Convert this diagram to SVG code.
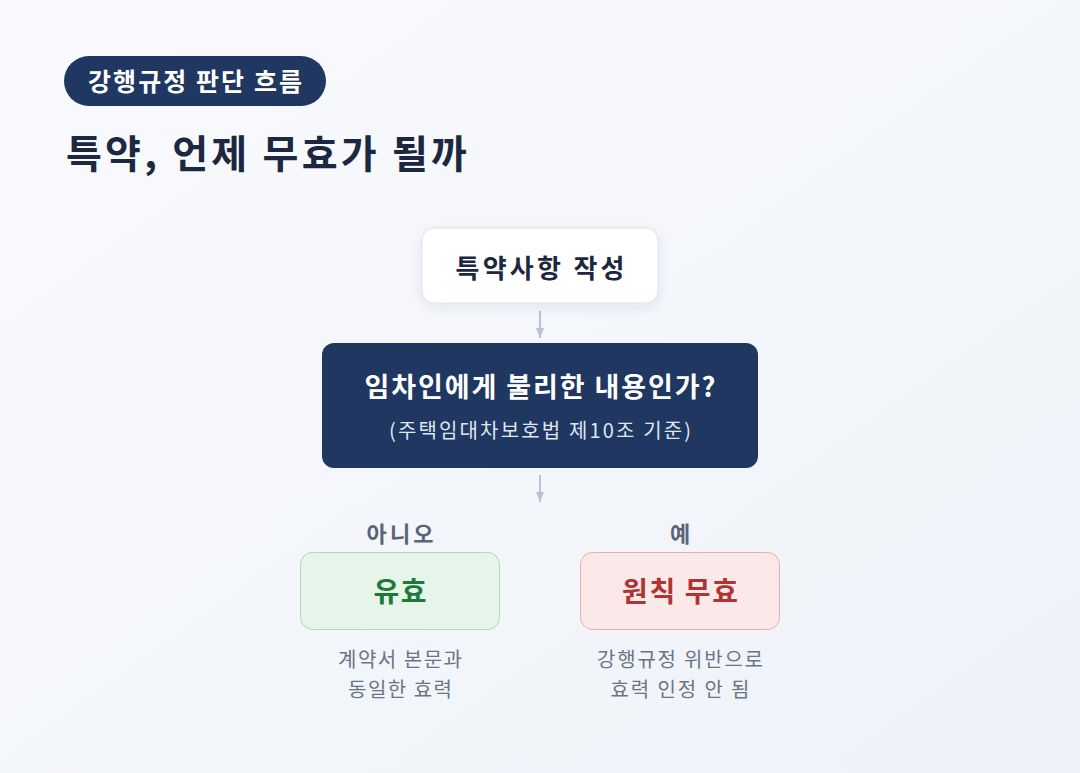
<svg xmlns="http://www.w3.org/2000/svg" width="1080" height="773" viewBox="0 0 1080 773">
<defs>
<linearGradient id="bg" x1="0" y1="0" x2="1" y2="1">
<stop offset="0" stop-color="#f9fafd"/>
<stop offset="1" stop-color="#eef2f8"/>
</linearGradient>
<filter id="sh" x="-20%" y="-30%" width="140%" height="170%">
<feDropShadow dx="0" dy="4" stdDeviation="6" flood-color="#1f3761" flood-opacity="0.08"/>
</filter>
<marker id="ah" viewBox="0 0 10 8" refX="10" refY="4" markerWidth="10" markerHeight="8" markerUnits="userSpaceOnUse" orient="auto">
<path d="M0,0 L10,4 L0,8 Z" fill="#b8c3d6"/>
</marker>
</defs>
<style>
text{font-family:"Noto Sans CJK KR","Noto Sans",sans-serif;text-anchor:middle}
.line{stroke:#b8c3d6;stroke-width:2;fill:none}
.sub{font-size:20px;fill:#6b7487}
.lab{font-size:22px;font-weight:700;fill:#5a6478}
</style>
<rect width="1080" height="773" fill="url(#bg)"/>
<g id="header">
<rect x="64" y="56" width="262" height="50" rx="25" fill="#1f3761"/>
<text x="195" y="91" font-size="25" font-weight="700" fill="#ffffff" textLength="214" lengthAdjust="spacing">강행규정 판단 흐름</text>
<text x="66" y="168" font-size="39" font-weight="700" fill="#1c2840" style="text-anchor:start" textLength="401" lengthAdjust="spacing">특약, 언제 무효가 될까</text>
</g>
<g id="connectors">
<line class="line" x1="540" y1="311" x2="540" y2="338" marker-end="url(#ah)"/>
<line class="line" x1="540" y1="475" x2="540" y2="502" marker-end="url(#ah)"/>
</g>
<g id="node-start">
<rect x="422" y="228" width="236" height="75" rx="12" fill="#ffffff" stroke="#dbe1ec" filter="url(#sh)"/>
<text x="540" y="278" font-size="26" font-weight="700" fill="#1c2840" textLength="169" lengthAdjust="spacing">특약사항 작성</text>
</g>
<g id="node-question">
<rect x="322" y="343" width="436" height="125" rx="12" fill="#1f3761"/>
<text x="540" y="397" font-size="27" font-weight="700" fill="#ffffff" textLength="351" lengthAdjust="spacing">임차인에게 불리한 내용인가?</text>
<text x="540" y="438" font-size="20" fill="#dfe6f1" textLength="302" lengthAdjust="spacing">(주택임대차보호법 제10조 기준)</text>
</g>
<g id="node-valid">
<text class="lab" x="400" y="542" textLength="67" lengthAdjust="spacing">아니오</text>
<rect x="300.5" y="552.5" width="199" height="77" rx="12" fill="#e6f4ea" stroke="#a9dcb6"/>
<text x="400" y="602" font-size="28" font-weight="700" fill="#1e7a3a" textLength="53" lengthAdjust="spacing">유효</text>
<text class="sub" x="400" y="667" textLength="124" lengthAdjust="spacing">계약서 본문과</text>
<text class="sub" x="400" y="697" textLength="104" lengthAdjust="spacing">동일한 효력</text>
</g>
<g id="node-invalid">
<text class="lab" x="680" y="542">예</text>
<rect x="580.5" y="552.5" width="199" height="77" rx="12" fill="#fbe9ea" stroke="#eeadad"/>
<text x="680" y="602" font-size="28" font-weight="700" fill="#b03434" textLength="116" lengthAdjust="spacing">원칙 무효</text>
<text class="sub" x="680" y="667" textLength="166" lengthAdjust="spacing">강행규정 위반으로</text>
<text class="sub" x="680" y="697" textLength="139" lengthAdjust="spacing">효력 인정 안 됨</text>
</g>
</svg>
